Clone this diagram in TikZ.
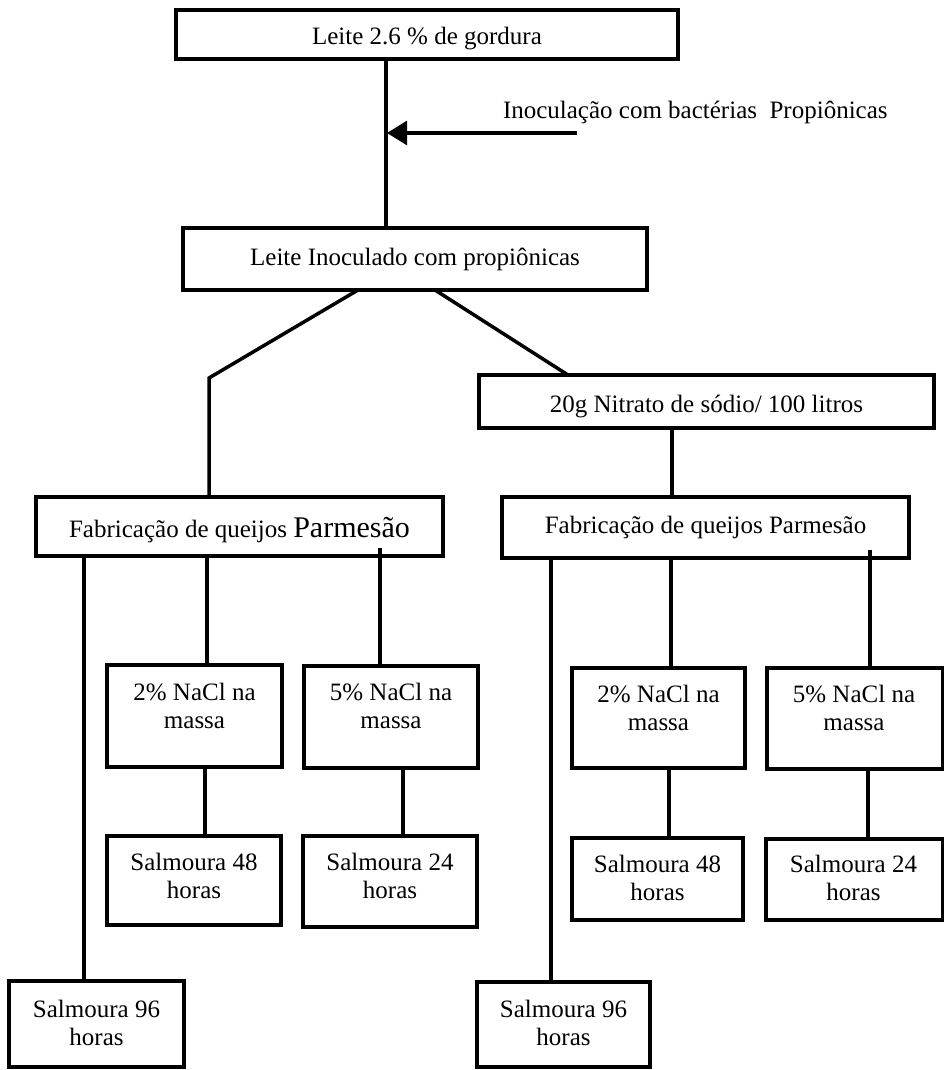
\documentclass[tikz,border=0pt]{standalone}
\usepackage{fontspec}
\setmainfont{Liberation Serif}
\usetikzlibrary{arrows.meta}
\begin{document}
\begin{tikzpicture}[x=1pt,y=-1pt,
  box/.style={draw,line width=4pt,rectangle,inner sep=0pt,outer sep=0pt},
  lbl/.style={inner sep=0pt,outer sep=0pt,font=\fontsize{25}{28.5}\selectfont,align=center},
  conn/.style={line width=3.5pt}]
\useasboundingbox (0,0) rectangle (943,1070);
% boxes
\node[box,minimum width=502pt,minimum height=49pt] (b1) at (427,34.5) {};
\node[box,minimum width=464pt,minimum height=62pt] (b2) at (415,259) {};
\node[box,minimum width=455pt,minimum height=53pt] (nit) at (706.5,401.5) {};
\node[box,minimum width=407pt,minimum height=59pt] (fabL) at (239.5,526.5) {};
\node[box,minimum width=407pt,minimum height=61pt] (fabR) at (705.5,527.5) {};
\node[box,minimum width=175pt,minimum height=102pt] (nL2) at (194.5,716) {};
\node[box,minimum width=174pt,minimum height=102pt] (nL5) at (391,717) {};
\node[box,minimum width=174pt,minimum height=89pt] (sL48) at (194,880.5) {};
\node[box,minimum width=174pt,minimum height=91pt] (sL24) at (390,881.5) {};
\node[box,minimum width=173pt,minimum height=100pt] (nR2) at (658.5,718) {};
\node[box,minimum width=176pt,minimum height=101pt] (nR5) at (855,718.5) {};
\node[box,minimum width=171pt,minimum height=82pt] (sR48) at (657.5,879) {};
\node[box,minimum width=177pt,minimum height=81pt] (sR24) at (854.5,879.5) {};
\node[box,minimum width=175pt,minimum height=86pt] (sL96) at (96.5,1024) {};
\node[box,minimum width=173pt,minimum height=85pt] (sR96) at (563.5,1024.5) {};
% texts
\node[lbl,anchor=base] (t1) at (427,45) {Leite 2.6 \% de gordura};
\node[lbl,anchor=base west] (tinoc) at (503,119) {Inoculação com bactérias\ \ Propiônicas};
\node[lbl,anchor=base] (t2) at (415,265) {Leite Inoculado com propiônicas};
\node[lbl,anchor=base] (tnit) at (706.5,412) {20g Nitrato de sódio/ 100 litros};
\node[lbl,anchor=base] (tfabL) at (239.5,537) {Fabricação de queijos {\fontsize{30}{32}\selectfont Parmesão}};
\node[lbl,anchor=base] (tfabR) at (705.5,533) {Fabricação de queijos Parmesão};
\node[lbl] (tnL2) at (194.5,705.7) {2\% NaCl na\\massa};
\node[lbl] (tnL5) at (391,705.7) {5\% NaCl na\\massa};
\node[lbl] (tsL48) at (194,875.7) {Salmoura 48\\horas};
\node[lbl] (tsL24) at (390,875.7) {Salmoura 24\\horas};
\node[lbl] (tnR2) at (658.5,707.7) {2\% NaCl na\\massa};
\node[lbl] (tnR5) at (854,707.7) {5\% NaCl na\\massa};
\node[lbl] (tsR48) at (657.5,877.7) {Salmoura 48\\horas};
\node[lbl] (tsR24) at (853.5,877.7) {Salmoura 24\\horas};
\node[lbl] (tsL96) at (96.5,1022.7) {Salmoura 96\\horas};
\node[lbl] (tsR96) at (563.5,1022.7) {Salmoura 96\\horas};
% connectors
\draw[conn] ([xshift=-41pt]b1.south) -- ([xshift=-29pt]b2.north);
\coordinate (arrS) at (577,133);
\coordinate (arrT) at (387,133);
\draw[line width=3pt,-{Triangle[length=20pt,width=24pt]}] (arrS) -- (arrT);
\coordinate (bend) at (209,378);
\draw[conn] ([xshift=-57pt]b2.south) -- (bend) -- ([xshift=-30.5pt]fabL.north);
\draw[conn] ([xshift=20pt]b2.south) -- ([xshift=-138.5pt]nit.north);
\draw[conn] ([xshift=-34.5pt]nit.south) -- ([xshift=-33.5pt]fabR.north);
\draw[conn] ([xshift=-155.5pt]fabL.south) -- ([xshift=-12.5pt]sL96.north);
\draw[conn] ([xshift=-32.5pt]fabL.south) -- ([xshift=12.5pt]nL2.north);
\draw[conn] ([xshift=140.5pt,yshift=8pt]fabL.south) -- ([xshift=-11pt]nL5.north);
\draw[conn] ([xshift=10.5pt]nL2.south) -- ([xshift=11pt]sL48.north);
\draw[conn] ([xshift=12pt]nL5.south) -- ([xshift=13pt]sL24.north);
\draw[conn] ([xshift=-154.5pt]fabR.south) -- ([xshift=-12.5pt]sR96.north);
\draw[conn] ([xshift=-34.5pt]fabR.south) -- ([xshift=12.5pt]nR2.north);
\draw[conn] ([xshift=164.5pt,yshift=8pt]fabR.south) -- ([xshift=15pt]nR5.north);
\draw[conn] ([xshift=10.5pt]nR2.south) -- ([xshift=11.5pt]sR48.north);
\draw[conn] ([xshift=13pt]nR5.south) -- ([xshift=13.5pt]sR24.north);
\end{tikzpicture}
\end{document}
